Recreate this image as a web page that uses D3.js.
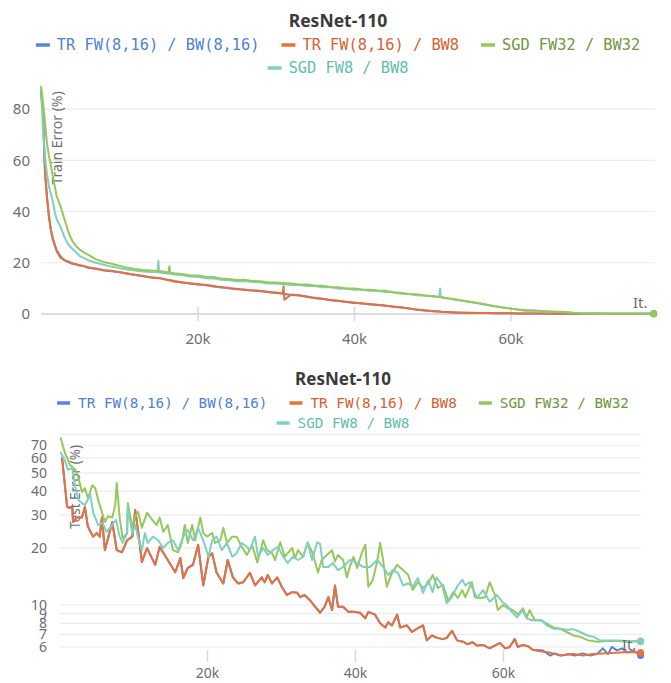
<!DOCTYPE html>
<html>
<head>
<meta charset="utf-8">
<title>ResNet-110</title>
<script src="https://d3js.org/d3.v7.min.js"></script>
<style>
  body { margin: 0; background: #fff; }
  text { font-family: "Noto Sans", "Open Sans", sans-serif; }
</style>
</head>
<body>
<div id="chart"></div>
<script>
/* series names, same order in both charts */
var seriesNames = ["TR FW(8,16) / BW(8,16)", "TR FW(8,16) / BW8", "SGD FW32 / BW32", "SGD FW8 / BW8"];

/* ---- train error (top chart), iterations in thousands ---- */
var trainIters = [0, 0.25, 0.5, 0.75, 1, 1.25, 1.5, 1.75, 2, 2.5, 3, 3.5, 4, 4.5, 5, 5.5,
  6, 7, 8, 9, 10, 11, 12, 13, 14,
  14.9, 15, 15.1,
  16, 16.3, 16.4, 16.5,
  17, 18, 19, 20, 21, 22, 23, 24, 25, 26, 27, 28, 29, 30,
  30.9, 31, 31.1,
  32, 33, 34, 35, 36, 37, 38, 39, 40, 41, 42, 43, 44, 45, 46, 47, 48, 49, 50,
  50.9, 51, 51.1,
  52, 53, 54, 55, 56, 57, 58, 59, 60, 61, 62, 63, 64, 65, 66, 67, 68, 69, 70, 71, 72, 73, 74, 75, 76, 77,
  78.3];

var trainTR16 = [87, 79, 57, 46, 38, 33, 29, 27, 24.5, 22, 21, 20.3, 19.6, 19.4, 18.8, 18.7,
  18.0, 17.8, 17.0, 16.7, 16.4, 15.7, 15.3, 14.7, 14.3,
  14.0, 13.9, 14.0,
  13.5, 13.2, 13.3, 13.1,
  12.7, 12.3, 12.0, 11.5, 11.4, 10.7, 10.5, 10.0, 9.9, 9.4, 9.2, 8.9, 8.7, 8.2,
  8.0, 7.9, 7.8,
  7.4, 7.2, 6.8, 6.1, 6.0, 5.4, 5.2, 4.7, 4.3, 4.2, 3.7, 3.5, 3.3, 2.8, 2.5, 2.2, 1.7, 1.4, 1.2,
  1.0, 1.0, 0.9,
  0.7, 0.6, 0.5, 0.4, 0.4, 0.35, 0.3, 0.25, 0.25, 0.2, 0.18, 0.18, 0.15, 0.12, 0.12, 0.1, 0.1, 0.08, 0.08, 0.07, 0.07, 0.06, 0.06, 0.05, 0.05, 0.05,
  0.05];

var trainTR8 = [87, 78, 55, 46, 39, 33, 30, 27, 25, 22.5, 21, 20.5, 19.8, 19.3, 19, 18.6,
  18.3, 17.6, 17.2, 16.9, 16.3, 15.9, 15.2, 14.9, 14.2,
  14.1, 14.0, 14.1,
  13.4, 13.3, 13.2, 13.3,
  12.9, 12.4, 11.9, 11.7, 11.2, 11.0, 10.3, 10.2, 9.7, 9.6, 9.2, 9.1, 8.5, 8.4,
  8.0, 10.8, 5.6,
  7.6, 7.3, 6.6, 6.3, 5.9, 5.5, 5.1, 4.8, 4.5, 4.1, 3.9, 3.6, 3.2, 2.9, 2.6, 2.1, 1.8, 1.5, 1.1,
  1.0, 0.95, 0.9,
  0.8, 0.6, 0.5, 0.45, 0.4, 0.35, 0.3, 0.3, 0.25, 0.2, 0.2, 0.18, 0.15, 0.15, 0.12, 0.1, 0.1, 0.1, 0.08, 0.08, 0.07, 0.07, 0.06, 0.05, 0.05, 0.05,
  0.05];

var trainSGD32 = [89, 83, 75, 67, 62, 58, 54, 50, 46, 42, 37, 32, 28.5, 26.5, 25, 24,
  23.2, 21.4, 20.3, 19.6, 18.8, 18.1, 17.6, 17.2, 17.0,
  16.8, 16.7, 16.8,
  16.4, 16.3, 18.6, 16.2,
  15.9, 15.6, 15.1, 15.0, 14.5, 14.4, 13.9, 13.7, 13.3, 13.4, 12.9, 12.8, 12.4, 12.3,
  12.1, 12.0, 12.0,
  11.9, 11.5, 11.5, 11.1, 11.0, 10.5, 10.4, 10.0, 10.0, 9.6, 9.5, 9.2, 9.1, 8.5, 8.3, 7.8, 7.7, 7.2, 7.0,
  6.7, 6.6, 6.6,
  6.2, 5.7, 5.2, 4.7, 4.2, 3.6, 3.0, 2.5, 2.1, 1.8, 1.6, 1.4, 1.2, 1.0, 0.9, 0.8, 0.5, 0.3, 0.2, 0.15, 0.1, 0.1, 0.08, 0.08, 0.05, 0.05,
  0.05];

var trainSGD8 = [88, 72, 62, 55, 50, 47, 44, 40, 37, 34, 30, 27, 25.5, 24, 22.5, 21.8,
  21, 20, 19.2, 18.5, 17.9, 17.4, 17.0, 16.6, 16.4,
  16.3, 20.8, 16.2,
  15.8, 15.9, 15.8, 15.7,
  15.4, 15.2, 14.6, 14.5, 14.0, 13.9, 13.4, 13.2, 12.8, 12.9, 12.5, 12.4, 11.9, 11.9,
  11.7, 11.6, 11.6,
  11.3, 11.3, 10.9, 10.9, 10.4, 10.4, 9.9, 9.9, 9.5, 9.5, 9.1, 9.1, 8.6, 8.5, 7.9, 7.8, 7.3, 7.2, 6.8,
  6.6, 10.0, 6.5,
  6.0, 5.6, 5.1, 4.6, 4.1, 3.5, 3.0, 2.5, 2.1, 1.7, 1.2, 1.4, 1.1, 1.0, 0.8, 0.7, 0.4, 0.3, 0.2, 0.15, 0.1, 0.1, 0.08, 0.08, 0.05, 0.05,
  0.05];

/* ---- test error (bottom chart), [iteration in thousands, error %] ---- */
var testTR8 = [[0.4,60.7],[1.1,33],[1.8,32.5],[1.9,27.5],[2.4,29],[3.1,29],[3.5,33],[3.9,26],[4.6,23],[5.1,24],[5.5,23],[5.8,29],
  [6.2,19.5],[7.2,27.5],[7.8,19.5],[8.5,19],[9.2,22],[9.9,23],[10.3,31.8],[10.7,24.5],[11.2,16.9],[11.9,20],[13,16.3],[13.6,20.3],
  [14.7,17.3],[15.7,14.9],[16.4,17.7],[16.8,13.9],[17.4,15.7],[18.1,16.3],[18.8,20.8],[19.5,12.7],[20.2,18],[20.7,18.8],[21.3,14.8],
  [22.2,13],[22.8,17.3],[23.5,14],[24.2,13],[24.9,13.2],[25.8,14.8],[26.5,12.7],[27.4,14],[27.8,13.2],[28.2,14.4],[28.8,13],[29.5,14],
  [30.1,12.5],[30.8,11.3],[31.5,11.7],[32.2,11.6],[32.6,11],[33.2,11.3],[33.9,10.6],[34.6,9.8],[35.3,9.1],[35.9,9.8],[36.4,11],
  [36.9,9.4],[37.3,12.7],[37.7,9.8],[38.4,9.8],[39.1,9.2],[39.8,9.2],[40.7,9.1],[41.4,8.5],[41.8,9.2],[42.7,8.9],[43.4,8.0],[44.1,7.6],
  [44.5,8.1],[45,7.8],[45.7,8.9],[46.1,7.6],[47,7.8],[47.7,7.2],[48.4,7.5],[49.2,7.8],[49.7,6.5],[50.4,6.9],[51.1,6.7],[51.9,6.6],
  [52.4,6.7],[53.1,7.3],[53.8,6.5],[54.6,6.4],[55.2,6.2],[55.9,6.35],[56.5,6.1],[57.3,6.15],[58.2,5.9],[58.9,6.1],[59.6,6.3],[60.3,5.9],
  [60.9,6.0],[61.6,6.6],[62,6.0],[62.7,6.15],[63.4,6.05],[64,5.8],[65,5.7],[66.4,5.6],[67.7,5.4],[69.5,5.5],[70.8,5.4],[72.2,5.5],
  [74,5.55],[75.8,5.6],[77.2,5.65],[78.6,5.6]];

var testTR16 = [[0.4,60.7],[1.1,33],[1.8,32.5],[1.9,27.5],[2.4,29],[3.1,29],[3.5,33],[3.9,26],[4.6,23],[5.1,24],[5.5,23],[5.8,29],
  [6.2,19.5],[7.2,27.5],[7.8,19.5],[8.5,19],[9.2,22],[9.9,23],[10.3,31.8],[10.7,24.5],[11.2,16.9],[11.9,20],[13,16.3],[13.6,20.3],
  [14.7,17.3],[15.7,14.9],[16.4,17.7],[16.8,13.9],[17.4,15.7],[18.1,16.3],[18.8,20.8],[19.5,12.7],[20.2,18],[20.7,18.8],[21.3,14.8],
  [22.2,13],[22.8,17.3],[23.5,14],[24.2,13],[24.9,13.2],[25.8,14.8],[26.5,12.7],[27.4,14],[27.8,13.2],[28.2,14.4],[28.8,13],[29.5,14],
  [30.1,12.5],[30.8,11.3],[31.5,11.7],[32.2,11.6],[32.6,11],[33.2,11.3],[33.9,10.6],[34.6,9.8],[35.3,9.1],[35.9,9.8],[36.4,11],
  [36.9,9.4],[37.3,12.7],[37.7,9.8],[38.4,9.8],[39.1,9.2],[39.8,9.2],[40.7,9.1],[41.4,8.5],[41.8,9.2],[42.7,8.9],[43.4,8.0],[44.1,7.6],
  [44.5,8.1],[45,7.8],[45.7,8.9],[46.1,7.6],[47,7.8],[47.7,7.2],[48.4,7.5],[49.2,7.8],[49.7,6.5],[50.4,6.9],[51.1,6.7],[51.9,6.6],
  [52.4,6.7],[53.1,7.3],[53.8,6.5],[54.6,6.4],[55.2,6.2],[55.9,6.35],[56.5,6.1],[57.3,6.15],[58.2,5.9],[58.9,6.1],[59.6,6.3],[60.3,5.9],
  [60.9,6.0],[61.6,6.6],[62,6.0],[62.7,6.15],[63.4,6.05],[64,5.8],[65.4,5.75],[66.4,5.4],[67,5.55],[67.9,5.4],[68.8,5.5],[69.7,5.4],
  [70.8,5.55],[71.8,5.4],[72.7,5.5],[73.5,5.9],[74.2,5.5],[74.7,6.0],[75.4,5.75],[76.1,5.9],[76.8,5.6],[77.6,5.75],[78.6,5.4]];

var testSGD32 = [[0.2,77],[0.8,63.8],[1.5,55],[2.2,52],[2.6,47.6],[3.1,39.6],[3.5,41.5],[3.9,36.8],[4.5,43],[4.9,41.5],[5.3,35.9],
  [5.8,31],[6.2,27.5],[6.6,29.5],[7.2,29],[7.6,33.8],[7.8,44.2],[8.2,29],[8.6,22.6],[9.2,24],[9.3,34.6],[9.9,26],[10.3,29.5],[10.7,31],
  [11.2,25.6],[11.9,30.8],[12.6,28.2],[13.2,26.5],[13.6,29],[14.1,24.4],[14.7,26.5],[15.4,19.5],[16.1,19],[16.6,21.3],[17,26.5],
  [17.4,21.3],[18,26.5],[18.4,22],[19.1,29],[19.5,24],[20,23],[20.7,24],[21.1,21.3],[21.8,22],[22.2,25.6],[22.7,21.3],[23.4,23],
  [24,23],[24.7,20.3],[25.4,18.4],[26.1,20.8],[26.8,16.8],[27.6,22],[28.1,19.5],[28.8,18.8],[29.2,17.3],[29.9,21.5],[30.5,18],
  [31.5,20],[31.9,17.7],[32.3,19.5],[33,18],[33.6,21.3],[34.3,18.8],[35,14.8],[35.5,17.3],[36.2,18.4],[36.9,19.5],[37.3,17],
  [37.7,18.4],[38.4,17.3],[38.9,14],[39.3,15.9],[39.8,18],[40.3,15.7],[40.9,18.8],[41.4,20.8],[41.8,12.5],[42.4,13.5],[43,17],
  [43.4,21.3],[43.8,17.3],[44.3,12.5],[45,14.8],[45.7,16.3],[46.5,15.3],[47.2,14.4],[47.8,12],[48.5,13.2],[49.2,12.3],[49.9,13],
  [50.5,14.4],[51.2,12.3],[51.9,12.8],[52.6,10.5],[53.3,11.7],[53.9,10.9],[54.5,12],[54.9,11],[55.8,13.2],[56.2,11],[56.9,10.9],
  [57.6,11],[58.2,13.2],[58.9,11.3],[59.3,9.4],[60,10],[60.7,9.6],[61.4,9.4],[62,8.9],[62.7,9.6],[63.2,8.6],[63.6,9.4],[64.3,8.3],
  [65,8.3],[65.9,8],[66.8,7.6],[67.7,7.5],[68.6,7.2],[69.5,6.9],[70.4,6.8],[71.5,6.5],[72.7,6.4],[74,6.45],[75.4,6.45],[76.8,6.4],[78.6,6.45]];

var testSGD8 = [[0.2,64.5],[0.8,58],[1.2,52],[1.8,53],[2.2,42],[2.6,36],[3.1,34.6],[3.5,33.8],[3.9,36],[4.2,39],[4.6,31],[5.3,26.5],
  [5.9,27.2],[6.4,24.4],[7.2,26.5],[7.7,28.2],[8.2,23],[8.6,21.3],[9.2,24],[9.3,33],[9.9,24],[10.3,26.5],[10.7,22.6],[11.2,19.5],
  [11.6,24],[12,21.3],[12.7,23],[13.4,22],[14.1,20],[14.7,21.3],[15.4,22],[16.1,19.5],[16.8,23],[17.4,25],[18.1,22],[18.8,25.6],
  [19.5,22],[20.2,18],[20.7,22],[21.3,23],[22,19.5],[22.7,21.3],[23.4,18],[24,18.8],[24.7,21.3],[25.4,20.3],[25.8,19.5],[26.5,23],
  [26.9,18],[27.6,20],[28.2,18.4],[28.9,19.5],[29.6,20.3],[30.3,18],[30.9,16.7],[31.6,18],[32.3,17.3],[33,18],[33.6,21.5],[34.2,17.3],
  [34.9,21.5],[35.3,21],[35.7,15.9],[36.4,15.9],[37,16.7],[37.7,15.3],[38.4,15.9],[39.3,17.3],[40.3,16.7],[41.1,15.9],[42,15.9],
  [43,17.3],[43.8,15.9],[44.5,14.4],[45.1,15.3],[45.8,14.8],[46.5,12.7],[47.2,13],[47.8,12.5],[48.5,13.9],[49.2,11.6],[49.9,13.5],
  [50.5,11.7],[51,14],[51.8,12.7],[52.4,10.2],[53.1,11],[53.8,12.5],[54.5,13.6],[54.9,12.7],[55.5,13.2],[56.5,10.9],[57.3,12],
  [58.2,10.4],[59.2,11.3],[59.9,10.4],[60.5,10],[61.2,9.2],[61.9,8.6],[62.6,9.4],[63.2,8.5],[63.9,8.3],[64.6,8.3],[65.3,8.3],
  [65.9,7.8],[66.8,7.5],[67.7,7.5],[68.6,7.4],[69.5,7.45],[70.4,7.2],[71.4,6.9],[72.2,6.8],[73.1,6.5],[74,6.5],[75.4,6.5],[76.8,6.45],[78.6,6.4]];

/* ticks */
var xTicks = [20, 40, 60];
var trainYTicks = [0, 20, 40, 60, 80];
var testYTicks = [6, 7, 8, 9, 10, 20, 30, 40, 50, 60, 70];

/* colours */
var lineColors = ["#5387dd", "#e8703a", "#96c75a", "#7fd0bf"];
var textColors = ["#4f80d6", "#d5612f", "#6f963f", "#5fbfa9"];

var svg = d3.select("#chart").append("svg")
    .attr("width", 671)
    .attr("height", 683);

/* zip the shared train iterations with each value list */
function zipTrain(vals) {
    return trainIters.map(function(k, i){ return [k, vals[i]]; });
}

var panels = [
    {
        cx: 338, titleY: 20, titleSize: 17.5,
        legendY: [45, 68], legendSize: 15.3, dash: 14, dashGap: 7, itemGap: 22,
        x: d3.scaleLinear().domain([0, 78.3]).range([41, 653.7]),
        y: d3.scaleLinear().domain([0, 89.5]).range([314, 84.7]),
        yTicks: trainYTicks, grid: [20, 40, 60, 80], gridX: [41, 655],
        labelRight: 30, tickFont: 15,
        axisLine: 314, tickTop: 307, tickLen: 14, tickPad: 12,
        yTitle: "Train Error (%)", yTitleX: 56, yTitleY: 138, yTitleSize: 14,
        itX: 633, itY: 308, itSize: 15,
        series: [
            {data: zipTrain(trainTR16), c: 0},
            {data: zipTrain(trainTR8), c: 1},
            {data: zipTrain(trainSGD8), c: 3},
            {data: zipTrain(trainSGD32), c: 2}
        ]
    },
    {
        cx: 343, titleY: 378, titleSize: 17,
        legendY: [403, 423], legendSize: 14.3, dash: 13, dashGap: 8, itemGap: 22,
        x: d3.scaleLinear().domain([0, 78.6]).range([59, 640.6]),
        y: d3.scaleLog().domain([5.2, 80]).range([658.7, 434.3]),
        yTicks: testYTicks, grid: testYTicks.concat([80]), gridX: [60, 641],
        labelRight: 47, tickFont: 14,
        axisLine: null, tickTop: 650, tickLen: 12, tickPad: 6,
        yTitle: "Test Error (%)", yTitleX: 75, yTitleY: 487, yTitleSize: 13.5,
        itX: 622, itY: 650, itSize: 14.5,
        series: [
            {data: testTR16, c: 0},
            {data: testTR8, c: 1},
            {data: testSGD32, c: 2},
            {data: testSGD8, c: 3}
        ]
    }
];

panels.forEach(drawPanel);

function drawPanel(p) {
    var g = svg.append("g");

    /* title */
    g.append("text")
        .attr("x", p.cx).attr("y", p.titleY)
        .attr("text-anchor", "middle").attr("dominant-baseline", "central")
        .style("font-size", p.titleSize + "px").style("font-weight", "bold")
        .style("fill", "#3a3a3a")
        .text("ResNet-110");

    /* legend: three items on the first row, one on the second */
    [[0, 1, 2], [3]].forEach(function(row, r){
        var lg = g.append("g");
        var x = 0;
        row.forEach(function(i){
            lg.append("rect")
                .attr("x", x).attr("y", -1.75)
                .attr("width", p.dash).attr("height", 3.5)
                .style("fill", lineColors[i]);
            var t = lg.append("text")
                .attr("x", x + p.dash + p.dashGap).attr("y", 0)
                .attr("dominant-baseline", "central")
                .style("font-family", "'DejaVu Sans Mono', monospace")
                .style("font-size", p.legendSize + "px")
                .style("fill", textColors[i])
                .text(seriesNames[i]);
            x += p.dash + p.dashGap + t.node().getComputedTextLength() + p.itemGap;
        });
        var w = x - p.itemGap;
        lg.attr("transform", "translate(" + (p.cx - w / 2) + "," + p.legendY[r] + ")");
    });

    /* horizontal grid */
    g.append("g").selectAll("line")
        .data(p.grid)
        .enter().append("line")
        .attr("x1", p.gridX[0]).attr("x2", p.gridX[1])
        .attr("y1", function(d){ return p.y(d); })
        .attr("y2", function(d){ return p.y(d); })
        .style("stroke", "#ececec").style("stroke-width", 1.2);

    /* y tick labels */
    var gy = g.append("g")
        .attr("transform", "translate(" + p.labelRight + ",0)")
        .call(d3.axisLeft(p.y).tickValues(p.yTicks).tickSize(0).tickPadding(0)
            .tickFormat(function(d){ return d; }));
    gy.select(".domain").remove();
    gy.selectAll("text")
        .style("font-family", "'Noto Sans', sans-serif")
        .style("font-size", p.tickFont + "px")
        .style("fill", "#6c6c74");

    /* x axis */
    if (p.axisLine !== null) {
        g.append("line")
            .attr("x1", p.gridX[0]).attr("x2", p.gridX[1])
            .attr("y1", p.axisLine).attr("y2", p.axisLine)
            .style("stroke", "#dcdcdc").style("stroke-width", 2);
    }
    var gx = g.append("g")
        .attr("transform", "translate(0," + p.tickTop + ")")
        .call(d3.axisBottom(p.x).tickValues(xTicks).tickSize(p.tickLen).tickPadding(p.tickPad)
            .tickFormat(function(d){ return d + "k"; }));
    gx.select(".domain").remove();
    gx.selectAll("line").style("stroke", "#d8d8d8").style("stroke-width", 1.5);
    gx.selectAll("text")
        .style("font-family", "'Noto Sans', sans-serif")
        .style("font-size", p.tickFont + "px")
        .style("fill", "#6c6c74");

    /* y axis title, drawn inside the plot */
    g.append("text")
        .attr("transform", "translate(" + p.yTitleX + "," + p.yTitleY + ") rotate(-90)")
        .attr("text-anchor", "middle").attr("dominant-baseline", "central")
        .style("font-size", p.yTitleSize + "px")
        .style("fill", "#707070")
        .text(p.yTitle);

    /* lines */
    var line = d3.line()
        .x(function(d){ return p.x(d[0]); })
        .y(function(d){ return p.y(d[1]); });

    p.series.forEach(function(s){
        g.append("path")
            .datum(s.data)
            .attr("d", line)
            .style("fill", "none")
            .style("stroke", lineColors[s.c])
            .style("stroke-width", 2)
            .style("stroke-linejoin", "round");
    });
    p.series.forEach(function(s){
        var last = s.data[s.data.length - 1];
        g.append("circle")
            .attr("cx", p.x(last[0])).attr("cy", p.y(last[1]))
            .attr("r", 3.5)
            .style("fill", lineColors[s.c]);
    });

    /* x axis name */
    g.append("text")
        .attr("x", p.itX).attr("y", p.itY)
        .style("font-size", p.itSize + "px")
        .style("fill", "#6c6c74")
        .text("It.");
}
</script>
</body>
</html>
